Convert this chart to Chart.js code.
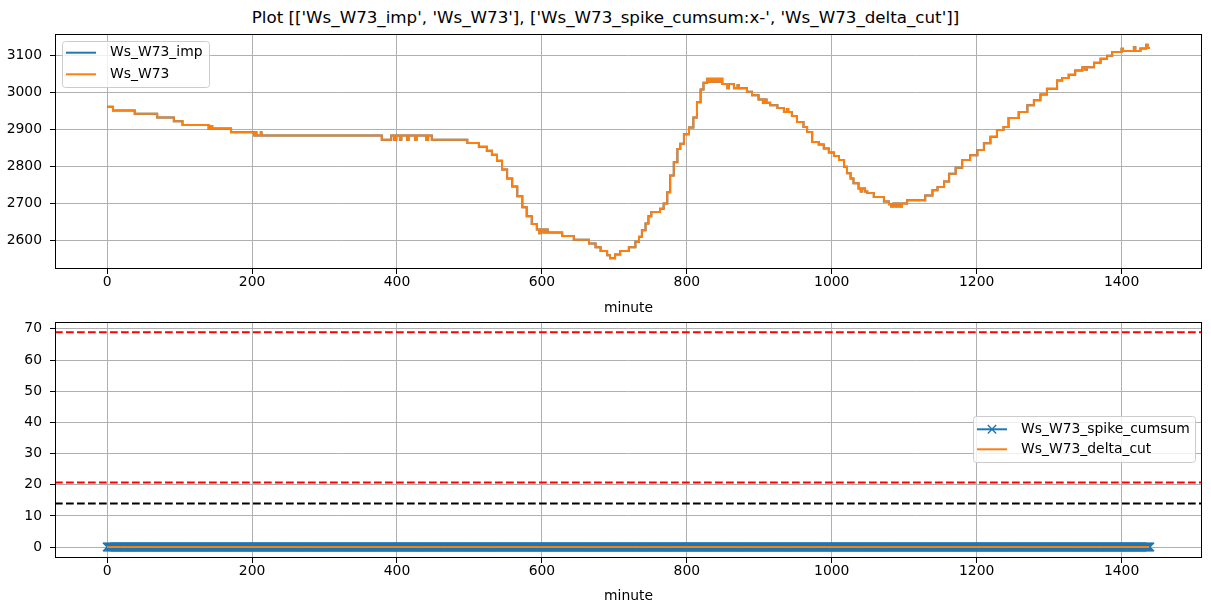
<!DOCTYPE html>
<html>
<head>
<meta charset="utf-8">
<script src="https://cdn.jsdelivr.net/npm/chart.js@4"></script>
<style>
  html, body { margin: 0; padding: 0; background: #fff; }
  #wrap { position: relative; width: 1211px; height: 611px; overflow: hidden; font-family: "DejaVu Sans", sans-serif; }
  #title { position: absolute; left: 0; top: 7px; width: 1211px; text-align: center; font-size: 16.7px; line-height: 20px; color: #000; }
  canvas { position: absolute; left: 0; }
  #topChart { top: 0; }
  #bottomChart { top: 305px; }
</style>
</head>
<body>
<div id="wrap">
  <div id="title">Plot [['Ws_W73_imp', 'Ws_W73'], ['Ws_W73_spike_cumsum:x-', 'Ws_W73_delta_cut']]</div>
  <canvas id="topChart" width="1211" height="320"></canvas>
  <canvas id="bottomChart" width="1211" height="306"></canvas>
</div>
<script>
// --- data ---
// top panel: minute where the level changes, and the new level
const topMinutes = [
  0, 8, 38, 69, 92, 104, 140, 143, 145, 171, 203, 205, 206, 212, 213,
  379, 392, 396, 399, 404, 406, 414, 416, 425, 427, 440, 443, 448,
  497, 513, 524, 531, 538, 545, 552, 559, 566, 573, 579, 586, 593, 596, 598, 602, 605, 608,
  628, 644, 665, 674, 681, 690, 694, 701, 708, 720, 729, 734, 738, 743, 747, 751, 763,
  768, 773, 777, 782, 787, 791, 796, 803, 809, 814, 819, 823, 828, 830, 832, 835, 837,
  840, 842, 845, 847, 849, 856, 858, 865, 870, 872, 883, 890, 899, 905, 907, 910, 915,
  925, 934, 938, 940, 945, 952, 961, 966, 973, 982, 989, 996, 1003, 1010, 1017, 1021,
  1026, 1030, 1037, 1040, 1042, 1046, 1049, 1058, 1072, 1079, 1082, 1085, 1088, 1091,
  1094, 1097, 1104, 1129, 1139, 1146, 1155, 1162, 1171, 1180, 1191, 1201, 1210, 1219,
  1228, 1237, 1244, 1258, 1270, 1279, 1288, 1297, 1311, 1318, 1327, 1336, 1346, 1350,
  1352, 1362, 1371, 1380, 1387, 1400, 1402, 1417, 1419, 1426, 1434, 1436, 1439
];
const topValues = [
  2962, 2952, 2943, 2933, 2923, 2913, 2903, 2910, 2903, 2893, 2884, 2893, 2884, 2893, 2884,
  2873, 2884, 2873, 2884, 2873, 2884, 2873, 2884, 2873, 2884, 2873, 2884, 2873,
  2864, 2854, 2843, 2832, 2816, 2792, 2768, 2746, 2720, 2690, 2666, 2645, 2630, 2620, 2630, 2622, 2630, 2622,
  2612, 2602, 2592, 2582, 2572, 2560, 2552, 2562, 2572, 2582, 2597, 2610, 2628, 2646, 2666, 2677, 2686,
  2700, 2731, 2776, 2812, 2848, 2862, 2888, 2906, 2933, 2974, 3009, 3027, 3038, 3030, 3038, 3030, 3038,
  3030, 3038, 3030, 3038, 3024, 3012, 3024, 3012, 3020, 3012, 3003, 2993, 2982, 2973, 2982, 2973, 2966,
  2959, 2948, 2956, 2948, 2937, 2921, 2907, 2894, 2867, 2860, 2849, 2838, 2829, 2818, 2800, 2782,
  2768, 2755, 2741, 2733, 2741, 2733, 2729, 2718, 2706, 2698, 2692, 2700, 2692, 2700,
  2692, 2700, 2709, 2722, 2736, 2745, 2760, 2781, 2797, 2818, 2831, 2845, 2863, 2881,
  2899, 2907, 2932, 2948, 2966, 2980, 2995, 3011, 3033, 3040, 3049, 3060, 3069, 3062,
  3069, 3081, 3092, 3100, 3110, 3119, 3113, 3123, 3113, 3120, 3130, 3121, 3121
];

// bottom panel: one sample per minute, the spike cumsum and delta cut both stay at 0
const minutes = Array.from({ length: 1440 }, (_, i) => i);
const spikeCumsum = new Array(1440).fill(0);
const deltaCut = new Array(1440).fill(0);

// horizontal dashed reference lines in the bottom panel
const refLevels = [68.9, 20.7, 14.0];
const refColors = ['red', 'red', 'black'];

// tick labels
const xTicks = [0, 200, 400, 600, 800, 1000, 1200, 1400];
const topYTicks = [2600, 2700, 2800, 2900, 3000, 3100];
const bottomYTicks = [0, 10, 20, 30, 40, 50, 60, 70];

const BLUE = '#1f77b4';
const ORANGE = '#ff7f0e';
const FONT = { family: 'DejaVu Sans', size: 13.9 };

// --- plugins ---
// full black box around the plot area like matplotlib spines
const framePlugin = {
  id: 'frame',
  afterDraw(chart) {
    const a = chart.chartArea;
    const ctx = chart.ctx;
    ctx.save();
    ctx.strokeStyle = '#000';
    ctx.lineWidth = 1;
    ctx.strokeRect(Math.round(a.left) + 0.5, Math.round(a.top) + 0.5,
      Math.round(a.right - a.left) - 1, Math.round(a.bottom - a.top) - 1);
    ctx.restore();
  }
};

// axhline style dashed lines
const hlinePlugin = {
  id: 'hlines',
  afterDatasetsDraw(chart, args, opts) {
    if (!opts.levels) return;
    const a = chart.chartArea;
    const y = chart.scales.y;
    const ctx = chart.ctx;
    ctx.save();
    ctx.beginPath();
    ctx.rect(a.left, a.top, a.right - a.left, a.bottom - a.top);
    ctx.clip();
    ctx.lineWidth = 2;
    ctx.setLineDash([7.7, 3.3]);
    opts.levels.forEach((v, i) => {
      const py = y.getPixelForValue(v);
      ctx.strokeStyle = opts.colors[i];
      ctx.beginPath();
      ctx.moveTo(a.left, py);
      ctx.lineTo(a.right, py);
      ctx.stroke();
    });
    ctx.restore();
  }
};

// matplotlib-like legend box
const boxLegendPlugin = {
  id: 'boxLegend',
  afterDraw(chart, args, opts) {
    const ctx = chart.ctx;
    const { left, top, width, height, rowGap, firstRow } = opts;
    ctx.save();
    ctx.beginPath();
    ctx.roundRect(left + 0.5, top + 0.5, width, height, 3);
    ctx.fillStyle = 'rgba(255,255,255,0.8)';
    ctx.fill();
    ctx.strokeStyle = '#cccccc';
    ctx.lineWidth = 1;
    ctx.stroke();
    ctx.font = FONT.size + 'px "' + FONT.family + '"';
    ctx.textBaseline = 'middle';
    chart.data.datasets.forEach((ds, i) => {
      const cy = top + firstRow + i * rowGap;
      const x0 = left + 4, x1 = left + 34;
      ctx.strokeStyle = ds.borderColor;
      ctx.lineWidth = 2;
      ctx.beginPath();
      ctx.moveTo(x0, cy);
      ctx.lineTo(x1, cy);
      ctx.stroke();
      if (ds.pointStyle === 'crossRot') {
        const cx = (x0 + x1) / 2, r = 4.2;
        ctx.lineWidth = 1.4;
        ctx.beginPath();
        ctx.moveTo(cx - r, cy - r); ctx.lineTo(cx + r, cy + r);
        ctx.moveTo(cx - r, cy + r); ctx.lineTo(cx + r, cy - r);
        ctx.stroke();
      }
      ctx.fillStyle = '#000';
      ctx.fillText(ds.label, left + 48, cy);
    });
    ctx.restore();
  }
};

function xScale(axisHeight, titlePadBottom) {
  return {
    type: 'linear',
    min: -72,
    max: 1511,
    afterBuildTicks: s => { s.ticks = xTicks.map(v => ({ value: v })); },
    afterFit: s => { s.height = axisHeight; },
    ticks: { font: FONT, color: '#000', padding: 0, maxRotation: 0, callback: v => String(v) },
    grid: { color: '#b0b0b0', lineWidth: 1, tickColor: '#000', tickLength: 5 },
    border: { display: false },
    title: { display: true, text: 'minute', font: FONT, color: '#000', padding: { top: 0, bottom: titlePadBottom } }
  };
}

function yScale(min, max, ticks) {
  return {
    min: min,
    max: max,
    afterBuildTicks: s => { s.ticks = ticks.map(v => ({ value: v })); },
    afterFit: s => { s.width = 55; },
    ticks: { font: FONT, color: '#000', padding: 8, callback: v => String(v) },
    grid: { color: '#b0b0b0', lineWidth: 1, tickColor: '#000', tickLength: 5 },
    border: { display: false }
  };
}

// --- top panel ---
const topPoints = topMinutes.map((m, i) => ({ x: m, y: topValues[i] }));

new Chart(document.getElementById('topChart'), {
  type: 'line',
  data: {
    datasets: [
      { label: 'Ws_W73_imp', data: topPoints, borderColor: BLUE, backgroundColor: BLUE, borderWidth: 2, pointRadius: 0, stepped: true, order: 1 },
      { label: 'Ws_W73', data: topPoints, borderColor: ORANGE, backgroundColor: ORANGE, borderWidth: 2, pointRadius: 0, stepped: true, order: 0 }
    ]
  },
  options: {
    responsive: false,
    animation: false,
    layout: { padding: { left: 0, right: 9, top: 34, bottom: 0 } },
    plugins: {
      legend: { display: false },
      tooltip: { enabled: false },
      boxLegend: { left: 62, top: 41, width: 147, height: 46, rowGap: 21.6, firstRow: 11.7 }
    },
    scales: {
      x: xScale(51, 3),
      y: yScale(2523, 3159, topYTicks)
    }
  },
  plugins: [framePlugin, boxLegendPlugin]
});

// --- bottom panel ---
new Chart(document.getElementById('bottomChart'), {
  type: 'line',
  data: {
    datasets: [
      {
        label: 'Ws_W73_spike_cumsum',
        data: minutes.map((m, i) => ({ x: m, y: spikeCumsum[i] })),
        borderColor: BLUE, backgroundColor: BLUE, borderWidth: 2,
        pointStyle: 'crossRot', pointRadius: 6, pointBorderWidth: 1.4, pointBorderColor: BLUE,
        order: 1
      },
      {
        label: 'Ws_W73_delta_cut',
        data: minutes.map((m, i) => ({ x: m, y: deltaCut[i] })),
        borderColor: ORANGE, backgroundColor: ORANGE, borderWidth: 2, pointRadius: 0,
        order: 0
      }
    ]
  },
  options: {
    responsive: false,
    animation: false,
    layout: { padding: { left: 0, right: 9, top: 17, bottom: 0 } },
    plugins: {
      legend: { display: false },
      tooltip: { enabled: false },
      hlines: { levels: refLevels, colors: refColors },
      boxLegend: { left: 973, top: 111, width: 222, height: 46, rowGap: 20, firstRow: 13.3 }
    },
    scales: {
      x: xScale(53, 6),
      y: yScale(-3.5, 72.2, bottomYTicks)
    }
  },
  plugins: [framePlugin, hlinePlugin, boxLegendPlugin]
});
</script>
</body>
</html>
